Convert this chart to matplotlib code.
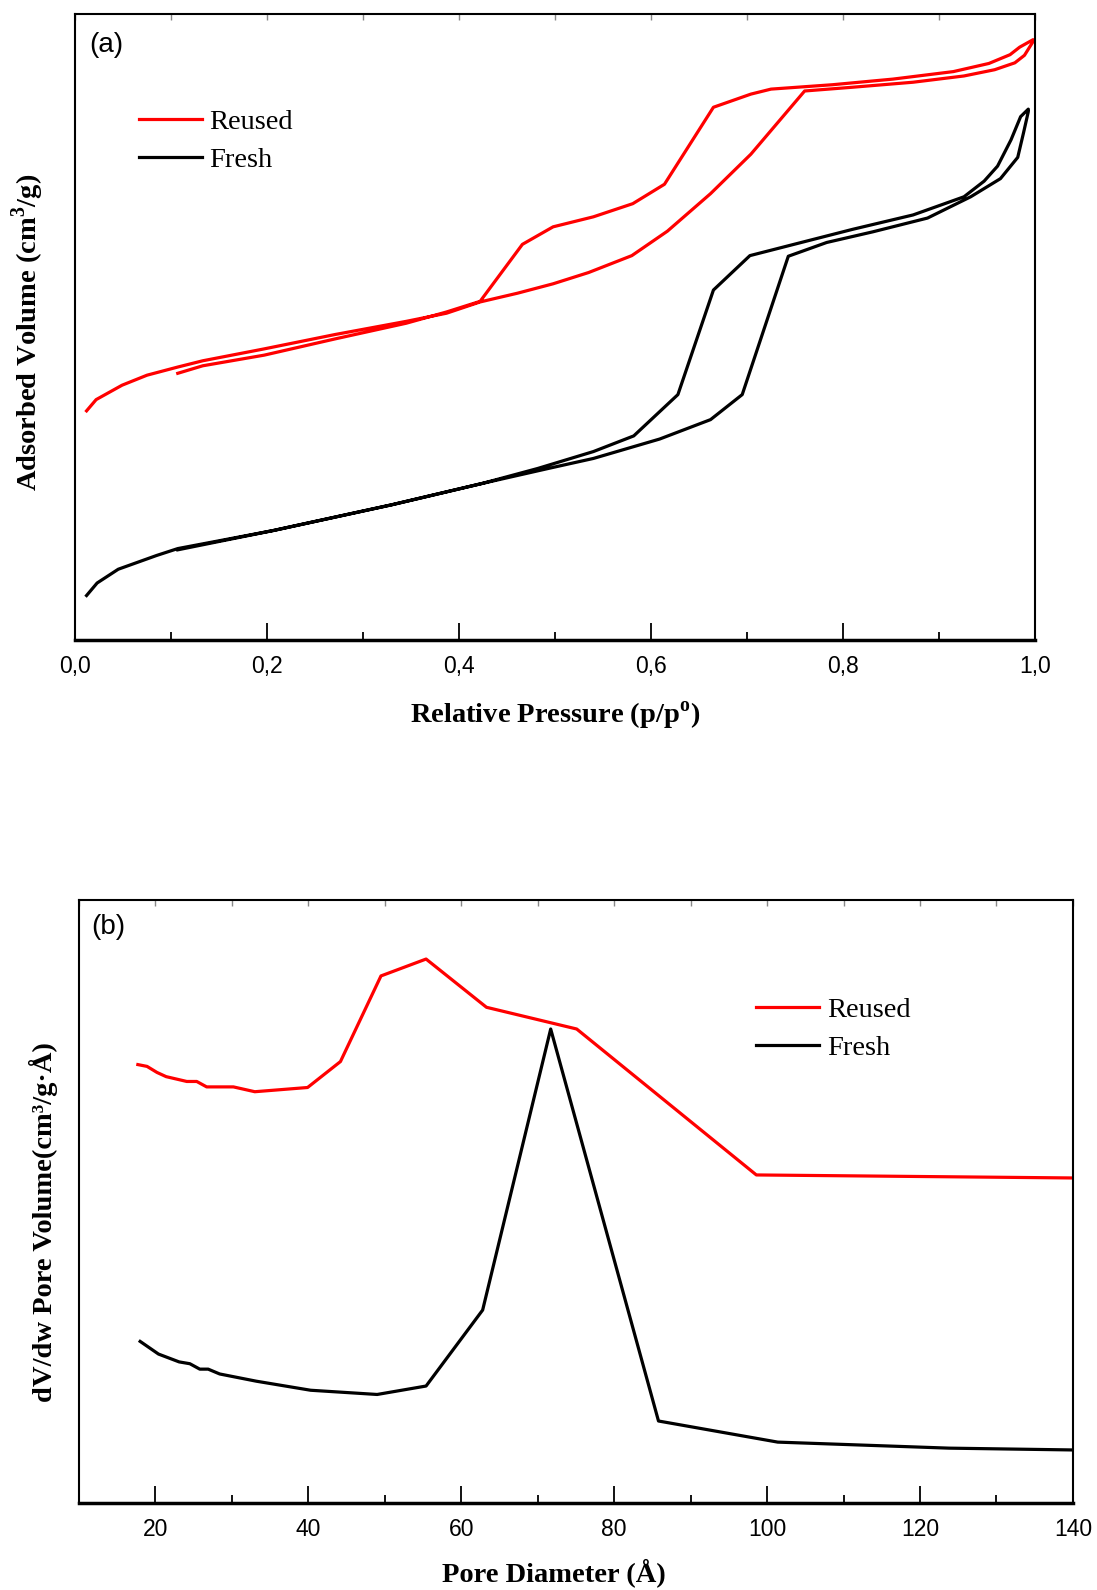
import numpy as np
import matplotlib
matplotlib.use('Agg')
import matplotlib.pyplot as plt
from matplotlib.ticker import MultipleLocator, FuncFormatter

# (a) N2 isotherms, adsorption then desorption (arbitrary volume units)
reused_ads_p = [0.012, 0.022, 0.049, 0.075, 0.107, 0.133, 0.197, 0.271, 0.345, 0.387, 0.422,
                0.461, 0.498, 0.535, 0.580, 0.617, 0.662, 0.704, 0.760, 0.810, 0.873, 0.926,
                0.958, 0.979, 0.989, 0.998]
reused_ads_v = [36.6, 38.4, 40.7, 42.3, 43.6, 44.6, 46.5, 48.8, 50.9, 52.2, 54.0,
                55.4, 56.9, 58.7, 61.4, 65.3, 71.3, 77.6, 87.7, 88.3, 89.1, 90.1,
                91.1, 92.2, 93.4, 95.6]
reused_des_p = [0.998, 0.984, 0.974, 0.952, 0.915, 0.852, 0.789, 0.725, 0.704, 0.665, 0.614,
                0.581, 0.540, 0.498, 0.466, 0.422, 0.387, 0.345, 0.271, 0.197, 0.133, 0.107]
reused_des_v = [95.9, 94.7, 93.5, 92.1, 90.8, 89.6, 88.7, 88.0, 87.2, 85.1, 72.8,
                69.7, 67.6, 66.0, 63.2, 54.1, 52.4, 50.6, 48.1, 45.5, 43.8, 42.6]

fresh_ads_p = [0.012, 0.023, 0.045, 0.085, 0.107, 0.207, 0.330, 0.424, 0.493, 0.540, 0.609,
               0.662, 0.695, 0.743, 0.783, 0.831, 0.888, 0.933, 0.964, 0.982, 0.988, 0.993]
fresh_ads_v = [7.1, 9.1, 11.3, 13.5, 14.6, 17.5, 21.6, 25.0, 27.4, 29.0, 32.1,
               35.2, 39.2, 61.3, 63.5, 65.2, 67.4, 70.8, 73.7, 77.1, 81.0, 84.4]
fresh_des_p = [0.993, 0.985, 0.975, 0.961, 0.947, 0.926, 0.873, 0.810, 0.703, 0.665, 0.628,
               0.582, 0.540, 0.482, 0.424, 0.330, 0.207, 0.107]
fresh_des_v = [84.8, 83.6, 79.9, 75.7, 73.3, 70.8, 67.9, 65.6, 61.4, 55.9, 39.2,
               32.6, 30.1, 27.4, 25.0, 21.6, 17.5, 14.4]

# (b) pore size distribution
reused_d = [17.7, 18.9, 20.2, 21.4, 24.1, 25.4, 26.7, 30.2, 33.0, 39.9, 44.2, 49.5,
            55.4, 63.3, 75.1, 98.6, 140.0]
reused_dv = [72.7, 72.4, 71.4, 70.7, 69.9, 69.9, 69.0, 69.0, 68.2, 68.9, 73.2, 87.4,
             90.2, 82.2, 78.6, 54.4, 53.9]
fresh_d = [18.0, 20.4, 23.1, 24.5, 25.8, 26.9, 28.4, 33.2, 40.3, 49.0, 55.4, 62.8,
           71.7, 85.8, 101.4, 123.8, 140.0]
fresh_dv = [26.8, 24.7, 23.4, 23.1, 22.2, 22.2, 21.4, 20.2, 18.7, 18.0, 19.4, 32.0,
            78.6, 13.6, 10.1, 9.1, 8.8]

tick_font = ['Liberation Sans Narrow', 'Liberation Sans', 'DejaVu Sans']
serif = ['Liberation Serif', 'DejaVu Serif']
sans = ['Liberation Sans', 'DejaVu Sans']
lw = 2.3
label_size = 20.5
legend_size = 20.5


def style_axes(ax):
    for side in ['top', 'right', 'left']:
        ax.spines[side].set_linewidth(1.5)
    ax.spines['bottom'].set_linewidth(2.5)
    ax.tick_params(axis='x', which='both', direction='in', pad=11)
    ax.tick_params(axis='x', which='major', length=12, width=1.3)
    ax.tick_params(axis='x', which='minor', length=6, width=1.3)
    ax.set_yticks([])
    for lab in ax.get_xticklabels():
        lab.set_family(tick_font)
        lab.set_fontsize(16.5)
    # faint short ticks along the top spine
    top = ax.secondary_xaxis('top')
    top.xaxis.set_major_locator(ax.xaxis.get_minor_locator())
    top.tick_params(axis='x', which='both', direction='in', length=4, width=1,
                    color='#888888', labeltop=False)
    top.spines['top'].set_visible(False)


fig = plt.figure(figsize=(10.97, 15.90), dpi=100)

# ---- panel (a)
ax1 = fig.add_axes([0.0684, 0.5975, 0.8751, 0.3937])
ax1.plot(reused_ads_p + reused_des_p, reused_ads_v + reused_des_v, color='red', lw=lw, label='Reused')
ax1.plot(fresh_ads_p + fresh_des_p, fresh_ads_v + fresh_des_v, color='black', lw=lw, label='Fresh')
ax1.set_xlim(0, 1.0)
ax1.set_ylim(0, 100)
ax1.xaxis.set_major_locator(MultipleLocator(0.2))
ax1.xaxis.set_minor_locator(MultipleLocator(0.1))
ax1.xaxis.set_major_formatter(FuncFormatter(lambda v, pos: f'{v:.1f}'.replace('.', ',')))
style_axes(ax1)
ax1.set_xlabel('Relative Pressure (p/p$^{\\mathregular{o}}$)', family=serif, fontsize=label_size,
               fontweight='bold')
ax1.xaxis.set_label_coords(0.5, -0.122)
ax1.xaxis.label.set_va('center')
ax1.set_ylabel('Adsorbed Volume (cm$^{\\mathregular{3}}$/g)', family=serif, fontsize=label_size,
               fontweight='bold')
ax1.yaxis.set_label_coords(-0.049, 0.492)
ax1.yaxis.label.set_va('center')
ax1.text(0.0148, 0.95, '(a)', transform=ax1.transAxes, family=sans,
         fontsize=20, ha='left', va='center')
ax1.legend(loc='center left', bbox_to_anchor=(0.0666, 0.7965), frameon=False,
           prop={'family': serif, 'size': legend_size}, handlelength=2.2, handletextpad=0.28,
           labelspacing=0.42, borderpad=0, borderaxespad=0)

# ---- panel (b)
ax2 = fig.add_axes([0.072, 0.0547, 0.906, 0.3793])
ax2.plot(reused_d, reused_dv, color='red', lw=lw, label='Reused')
ax2.plot(fresh_d, fresh_dv, color='black', lw=lw, label='Fresh')
ax2.set_xlim(10, 140)
ax2.set_ylim(0, 100)
ax2.xaxis.set_major_locator(MultipleLocator(20))
ax2.xaxis.set_minor_locator(MultipleLocator(10))
style_axes(ax2)
ax2.set_xlabel('Pore Diameter (Å)', family=serif, fontsize=label_size, fontweight='bold')
ax2.xaxis.set_label_coords(0.478, -0.116)
ax2.xaxis.label.set_va('center')
ax2.set_ylabel('dV/dw Pore Volume(cm³/g·Å)', family=serif, fontsize=label_size, fontweight='bold')
ax2.yaxis.set_label_coords(-0.036, 0.466)
ax2.yaxis.label.set_va('center')
ax2.text(0.0122, 0.9545, '(b)', transform=ax2.transAxes, family=sans,
         fontsize=20, ha='left', va='center')
ax2.legend(loc='center left', bbox_to_anchor=(0.6816, 0.786), frameon=False,
           prop={'family': serif, 'size': legend_size}, handlelength=2.2, handletextpad=0.28,
           labelspacing=0.42, borderpad=0, borderaxespad=0)

fig.savefig('out.png', dpi=100)
